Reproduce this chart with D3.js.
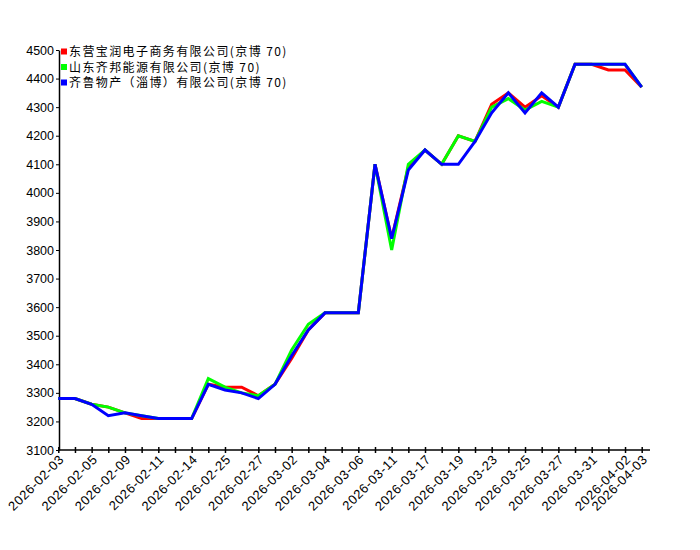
<!DOCTYPE html>
<html>
<head>
<meta charset="utf-8">
<script src="https://cdn.jsdelivr.net/npm/d3@7"></script>
<style>
    body { margin: 0; background: #fff; }
    text { font-family: "Liberation Sans", Arial, sans-serif; }
</style>
</head>
<body>
<div id="chart"></div>
<script>
var dates = ["2026-02-03", "2026-02-04", "2026-02-05", "2026-02-06", "2026-02-09", "2026-02-10",
    "2026-02-11", "2026-02-12", "2026-02-14", "2026-02-24", "2026-02-25", "2026-02-26",
    "2026-02-27", "2026-02-28", "2026-03-02", "2026-03-03", "2026-03-04", "2026-03-05",
    "2026-03-06", "2026-03-09", "2026-03-11", "2026-03-16", "2026-03-17", "2026-03-18",
    "2026-03-19", "2026-03-20", "2026-03-23", "2026-03-24", "2026-03-25", "2026-03-26",
    "2026-03-27", "2026-03-30", "2026-03-31", "2026-04-01", "2026-04-02", "2026-04-03"];

var names = ["东营宝润电子商务有限公司(京博 70)", "山东齐邦能源有限公司(京博 70)", "齐鲁物产（淄博）有限公司(京博 70)"];
var colors = ["#ff0000", "#00ff00", "#0000ff"];

var redValues = [3280, 3280, 3260, 3250, 3230, 3210, 3210, 3210, 3210, 3330, 3320, 3320,
    3290, 3330, 3420, 3520, 3580, 3580, 3580, 4100, 3840, 4090, 4150, 4100,
    4200, 4180, 4310, 4350, 4300, 4340, 4300, 4450, 4450, 4430, 4430, 4370];
var greenValues = [3280, 3280, 3260, 3250, 3230, 3220, 3210, 3210, 3210, 3350, 3320, 3300,
    3290, 3330, 3450, 3540, 3580, 3580, 3580, 4100, 3800, 4100, 4150, 4100,
    4200, 4180, 4300, 4330, 4290, 4320, 4300, 4450, 4450, 4450, 4450, 4370];
var blueValues = [3280, 3280, 3260, 3220, 3230, 3220, 3210, 3210, 3210, 3330, 3310, 3300,
    3280, 3330, 3430, 3520, 3580, 3580, 3580, 4100, 3840, 4080, 4150, 4100,
    4100, 4180, 4280, 4350, 4280, 4350, 4300, 4450, 4450, 4450, 4450, 4370];

var yTicks = [3100, 3200, 3300, 3400, 3500, 3600, 3700, 3800, 3900, 4000, 4100, 4200, 4300, 4400, 4500];

function init() {
    var w = 700, h = 550;
    var left = 59, right = 650, top = 50, bottom = 450;

    var svg = d3.select("#chart").append("svg")
        .attr("width", w)
        .attr("height", h);

    var xScale = d3.scaleLinear()
        .domain([0, dates.length - 1])
        .range([58.3, 641.7]);

    var yScale = d3.scaleLinear()
        .domain([3100, 4500])
        .range([bottom, top]);

    // x axis: every point gets a tick, labels every other one plus the last
    var xAxis = svg.append("g")
        .attr("transform", "translate(0," + bottom + ")")
        .call(d3.axisBottom(xScale)
            .tickValues(d3.range(dates.length))
            .tickSize(3)
            .tickSizeOuter(0)
            .tickFormat(function (d) {
                return (d % 2 === 0 || d === dates.length - 1) ? dates[d] : "";
            }));
    xAxis.select(".domain").attr("d", "M" + left + ",0H" + right).attr("stroke-width", 1.5);
    xAxis.selectAll(".tick line").attr("y1", -3).attr("y2", 3).attr("stroke-width", 1.5);
    xAxis.selectAll(".tick text")
        .attr("font-size", 13)
        .attr("font-family", "Liberation Sans, Arial, sans-serif")
        .style("letter-spacing", "0.6px")
        .attr("fill", "#000")
        .style("text-anchor", "end")
        .attr("transform", "rotate(-45)")
        .attr("x", -3)
        .attr("y", 7)
        .attr("dy", "0.35em");

    // y axis
    var yAxis = svg.append("g")
        .attr("transform", "translate(" + left + ",0)")
        .call(d3.axisLeft(yScale)
            .tickValues(yTicks)
            .tickSize(3)
            .tickSizeOuter(0)
            .tickFormat(d3.format("d")));
    yAxis.select(".domain").attr("stroke-width", 1.5);
    yAxis.selectAll(".tick line").attr("stroke-width", 1);
    yAxis.selectAll(".tick text")
        .attr("font-size", 12.5)
        .attr("font-family", "Liberation Sans, Arial, sans-serif")
        .attr("fill", "#000")
        .attr("x", -5);

    var line = d3.line()
        .x(function (d, i) { return xScale(i); })
        .y(function (d) { return yScale(d); });

    var series = [redValues, greenValues, blueValues];
    svg.selectAll(".series")
        .data(series)
        .enter()
        .append("path")
        .attr("class", "series")
        .attr("d", function (d) { return line(d); })
        .attr("fill", "none")
        .attr("stroke", function (d, i) { return colors[i]; })
        .attr("stroke-width", 3)
        .attr("stroke-linejoin", "miter");

    // legend
    var legend = svg.selectAll(".legend")
        .data(names)
        .enter()
        .append("g")
        .attr("class", "legend")
        .attr("transform", function (d, i) { return "translate(61," + (52 + i * 15.5) + ")"; });
    legend.append("rect")
        .attr("x", 0)
        .attr("y", -3.5)
        .attr("width", 6)
        .attr("height", 6)
        .attr("fill", function (d, i) { return colors[i]; });
    legend.append("text")
        .attr("x", 8)
        .attr("y", 0)
        .attr("dy", "0.35em")
        .attr("font-size", 12)
        .style("font-family", "'Noto Sans CJK SC', sans-serif")
        .style("letter-spacing", "1.4px")
        .attr("fill", "#000")
        .text(function (d) { return d; });
}

window.onload = init;
</script>
</body>
</html>
